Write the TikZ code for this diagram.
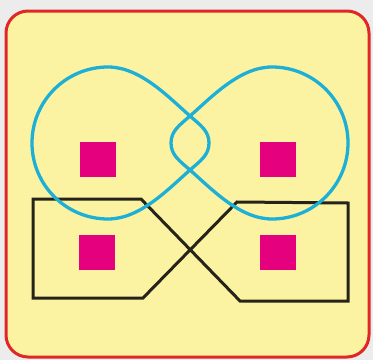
\documentclass[tikz,border=0pt]{standalone}
\usepackage{tikz}
\definecolor{bggray}{HTML}{ECECEC}
\definecolor{paleyellow}{HTML}{FCF3A2}
\definecolor{frame}{HTML}{E02626}
\definecolor{loopblue}{HTML}{1EAFD6}
\definecolor{magentasq}{HTML}{E5007D}
\definecolor{darkline}{HTML}{26241A}
\tikzset{
  panel/.style={fill=paleyellow, draw=frame, line width=3pt, rounded corners=22pt},
  loopline/.style={draw=loopblue, line width=3.3pt, line join=round},
  boxline/.style={draw=darkline, line width=3pt, line join=miter},
  sq/.style={fill=magentasq, draw=none, minimum width=36pt, minimum height=35pt, inner sep=0pt, outer sep=0pt}
}
\begin{document}
\begin{tikzpicture}[x=1pt,y=1pt]
\useasboundingbox (0,0) rectangle (373,360);
\fill[bggray] (0,0) rectangle (373,360);
\path[panel] (6,3) rectangle (369,349);
% black crossed outline
\path[boxline] (33,161) -- (141,161) -- (240,59) -- (348,59) -- (348,157) -- (237,158) -- (143,62) -- (33,62) -- cycle;
% blue left lobe
\path[loopline] (190,244) .. controls (200.5,234.8) and (209,229) .. (209,217)
  .. controls (209,205) and (200.5,199.2) .. (190,190)
  .. controls (167.5,170.2) and (140,141) .. (108,141)
  arc[start angle=-90, end angle=-270, radius=76pt]
  .. controls (140,293) and (167.5,263.8) .. (190,244) -- cycle;
% blue right lobe
\path[loopline] (190,244) .. controls (179.5,234.8) and (171,229) .. (171,217)
  .. controls (171,205) and (179.5,199.2) .. (190,190)
  .. controls (212.5,170.2) and (240,141) .. (272,141)
  arc[start angle=-90, end angle=90, radius=76pt]
  .. controls (240,293) and (212.5,263.8) .. (190,244) -- cycle;
% squares
\node[sq] (tl) at (98,200.5) {};
\node[sq] (tr) at (278,200.5) {};
\node[sq] (bl) at (97,107.5) {};
\node[sq] (br) at (278,107.5) {};
\end{tikzpicture}
\end{document}
